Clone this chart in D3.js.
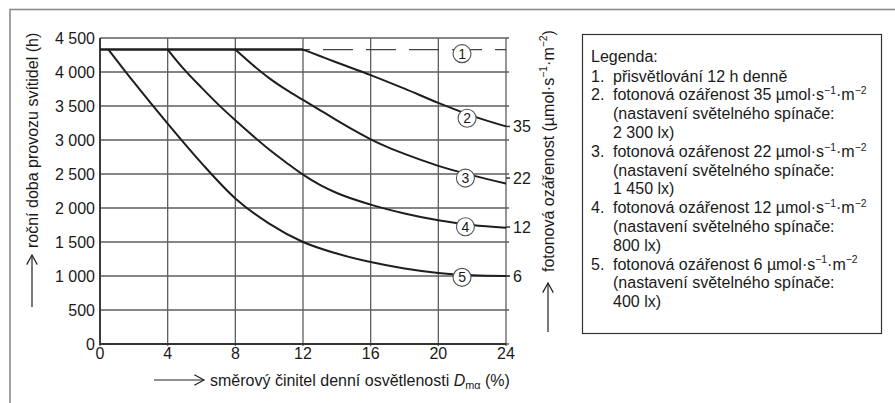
<!DOCTYPE html>
<html>
<head>
<meta charset="utf-8">
<script src="https://cdn.jsdelivr.net/npm/d3@7"></script>
<style>
  body { margin: 0; background: #fff; }
  svg text { font-family: "Liberation Sans", Arial, sans-serif; fill: #1a1a1a; }
</style>
</head>
<body>
<div id="chart"></div>
<script>
// data
var xTicks = [0, 4, 8, 12, 16, 20, 24]
var yTicks = [0, 500, 1000, 1500, 2000, 2500, 3000, 3500, 4000, 4500]

// series: x = směrový činitel (%), y = hodiny
var base = [[0, 4330], [12, 4330]]
var curve1 = [[12, 4330], [24, 4330]]
var curve2 = [[12, 4330], [13, 4235], [14, 4140], [16, 3955], [18, 3755], [20, 3545], [22, 3355], [24, 3200]]
var curve3 = [[8, 4330], [9, 4110], [10, 3910], [11, 3740], [12, 3590], [13, 3440], [14, 3290], [15, 3145], [16, 3010], [17, 2895], [18, 2795], [20, 2620], [22, 2480], [24, 2360]]
var curve4 = [[4, 4330], [5, 4030], [6, 3770], [7, 3520], [8, 3290], [9, 3070], [10, 2860], [11, 2670], [12, 2490], [13, 2340], [14, 2220], [16, 2050], [18, 1920], [20, 1820], [22, 1750], [24, 1710]]
var curve5 = [[0.5, 4330], [2, 3850], [4, 3240], [6, 2660], [8, 2140], [10, 1770], [12, 1500], [14, 1330], [16, 1205], [18, 1110], [20, 1045], [22, 1010], [24, 1000]]

// circled numbers on curves
var markNames = ["1", "2", "3", "4", "5"]
var markX = [21.4, 21.7, 21.6, 21.6, 21.4]
var markY = [4270, 3320, 2440, 1725, 980]

// right-hand values (fotonová ozářenost)
var rightNames = ["35", "22", "12", "6"]
var rightY = [3200, 2440, 1720, 1000]

var legendTitle = "Legenda:"
var legendNums = ["1.", "2.", "", "", "3.", "", "", "4.", "", "", "5.", "", ""]
var legendLines = [
  "přisvětlování 12 h denně",
  "fotonová ozářenost 35 µmol·s^{−1}·m^{−2}",
  "(nastavení světelného spínače:",
  "2 300 lx)",
  "fotonová ozářenost 22 µmol·s^{−1}·m^{−2}",
  "(nastavení světelného spínače:",
  "1 450 lx)",
  "fotonová ozářenost 12 µmol·s^{−1}·m^{−2}",
  "(nastavení světelného spínače:",
  "800 lx)",
  "fotonová ozářenost 6 µmol·s^{−1}·m^{−2}",
  "(nastavení světelného spínače:",
  "400 lx)"
]

var yTitle = "roční doba provozu svítidel (h)"
var y2Title = "fotonová ozářenost (µmol·s^{−1}·m^{−2})"
var xTitle = "směrový činitel denní osvětlenosti *D*_{mα} (%)"

var W = 895, H = 403
var fs = 16
var svg = d3.select("#chart").append("svg")
    .attr("width", W).attr("height", H)

// outer frame (only top and left edge visible)
svg.append("rect")
    .attr("x", 10).attr("y", 9.5)
    .attr("width", W + 20).attr("height", H + 20)
    .attr("fill", "none")
    .attr("stroke", "#8c8c8c")
    .attr("stroke-width", 1.6)

var x = d3.scaleLinear().domain([0, 24]).range([100, 506])
var y = d3.scaleLinear().domain([0, 4500]).range([344, 38])

// text with ^{sup}, _{sub} and *italic*
function rich(t, s, size) {
  var shift = 0
  s.split(/(\^\{[^}]*\}|_\{[^}]*\}|\*[^*]*\*)/).forEach(function(p) {
    if (!p) return
    var ts = t.append("tspan"), target = 0, txt = p
    if (p.indexOf("^{") == 0) { target = -size * 0.38; txt = p.slice(2, -1); ts.attr("font-size", size * 0.65) }
    else if (p.indexOf("_{") == 0) { target = size * 0.22; txt = p.slice(2, -1); ts.attr("font-size", size * 0.68) }
    else if (p.indexOf("*") == 0) { txt = p.slice(1, -1); ts.attr("font-style", "italic") }
    if (target != shift) { ts.attr("dy", target - shift); shift = target }
    ts.text(txt)
  })
}

// grid
var grid = svg.append("g")
grid.selectAll(".hg").data(yTicks).enter().append("line")
    .attr("x1", x(0)).attr("x2", x(24) + 3)
    .attr("y1", function(d) { return y(d) }).attr("y2", function(d) { return y(d) })
    .attr("stroke", "#5e5e5e").attr("stroke-width", 1.3)
grid.selectAll(".vg").data(xTicks).enter().append("line")
    .attr("x1", function(d) { return x(d) }).attr("x2", function(d) { return x(d) })
    .attr("y1", y(4500)).attr("y2", y(0) + 2)
    .attr("stroke", "#5e5e5e").attr("stroke-width", 1.3)
// darker axis lines
svg.append("path")
    .attr("d", "M" + x(0) + "," + y(4500) + "V" + y(0) + "H" + x(24))
    .attr("fill", "none").attr("stroke", "#333").attr("stroke-width", 1.8)

// tick labels
var fmt = function(v) { return v >= 1000 ? Math.floor(v / 1000) + " " + String(v % 1000).padStart(3, "0") : String(v) }
svg.selectAll(".yl").data(yTicks).enter().append("text")
    .attr("x", 95).attr("y", function(d) { return y(d) })
    .attr("dy", "0.36em").attr("text-anchor", "end")
    .attr("font-size", fs)
    .text(fmt)
svg.selectAll(".xl").data(xTicks).enter().append("text")
    .attr("x", function(d) { return x(d) }).attr("y", 348)
    .attr("dy", "0.71em").attr("text-anchor", "middle")
    .attr("font-size", fs)
    .text(function(d) { return d })

// curves
var line = d3.line()
    .x(function(d) { return x(d[0]) })
    .y(function(d) { return y(d[1]) })
    .curve(d3.curveMonotoneX)
svg.append("path").datum(base).attr("d", line)
    .attr("fill", "none").attr("stroke", "#1e1e1e").attr("stroke-width", 2.4)
svg.append("path").datum(curve1).attr("d", line)
    .attr("fill", "none").attr("stroke", "#444").attr("stroke-width", 1.3)
    .attr("stroke-dasharray", "30,13").attr("stroke-dashoffset", 23)
;[curve2, curve3, curve4, curve5].forEach(function(c) {
  svg.append("path").datum(c).attr("d", line)
      .attr("fill", "none").attr("stroke", "#1e1e1e").attr("stroke-width", 2)
})

// small ticks at the right end of curves
svg.selectAll(".rt").data(rightY).enter().append("line")
    .attr("x1", x(24)).attr("x2", x(24) + 4)
    .attr("y1", function(d) { return y(d) }).attr("y2", function(d) { return y(d) })
    .attr("stroke", "#333").attr("stroke-width", 1.5)

// circled numbers
var marks = svg.selectAll(".mk").data(markNames).enter().append("g")
    .attr("transform", function(d, i) { return "translate(" + x(markX[i]) + "," + y(markY[i]) + ")" })
marks.append("circle").attr("r", 9)
    .attr("fill", "#fff").attr("stroke", "#555").attr("stroke-width", 1.1)
marks.append("text").attr("text-anchor", "middle").attr("dy", "0.36em")
    .attr("font-size", 14).text(function(d) { return d })

// right values
svg.selectAll(".rv").data(rightNames).enter().append("text")
    .attr("x", 513).attr("y", function(d, i) { return y(rightY[i]) })
    .attr("dy", "0.36em").attr("font-size", fs)
    .text(function(d) { return d })

// arrows
function arrow(x1, y1, x2, y2) {
  var a = Math.atan2(y2 - y1, x2 - x1), L = 11, s = 0.5
  svg.append("line").attr("x1", x1).attr("y1", y1).attr("x2", x2).attr("y2", y2)
      .attr("stroke", "#222").attr("stroke-width", 1.2)
  svg.append("path")
      .attr("d", "M" + (x2 - L * Math.cos(a - s)) + "," + (y2 - L * Math.sin(a - s)) +
          "L" + x2 + "," + y2 +
          "L" + (x2 - L * Math.cos(a + s)) + "," + (y2 - L * Math.sin(a + s)))
      .attr("fill", "none").attr("stroke", "#222").attr("stroke-width", 1.2)
}
arrow(32, 307, 32, 255)
arrow(154, 380, 204, 380)
arrow(548, 332, 548, 283)

// axis titles
var yt = svg.append("text")
    .attr("transform", "translate(37.5,248) rotate(-90)")
    .attr("font-size", fs)
rich(yt, yTitle, fs)
var y2t = svg.append("text")
    .attr("transform", "translate(553.5,272) rotate(-90)")
    .attr("font-size", fs)
rich(y2t, y2Title, fs)
var xt = svg.append("text")
    .attr("x", 210).attr("y", 385.5)
    .attr("font-size", fs)
rich(xt, xTitle, fs)

// legend
svg.append("rect")
    .attr("x", 582.5).attr("y", 34.5).attr("width", 299).attr("height", 299)
    .attr("fill", "#fff").attr("stroke", "#333").attr("stroke-width", 1.2)
svg.append("text").attr("x", 591).attr("y", 62).attr("font-size", fs).text(legendTitle)
legendLines.forEach(function(s, i) {
  var ly = 81.5 + i * 18.8
  if (legendNums[i]) svg.append("text").attr("x", 591).attr("y", ly).attr("font-size", fs).text(legendNums[i])
  var t = svg.append("text").attr("x", 613).attr("y", ly).attr("font-size", fs)
  rich(t, s, fs)
})
</script>
</body>
</html>
